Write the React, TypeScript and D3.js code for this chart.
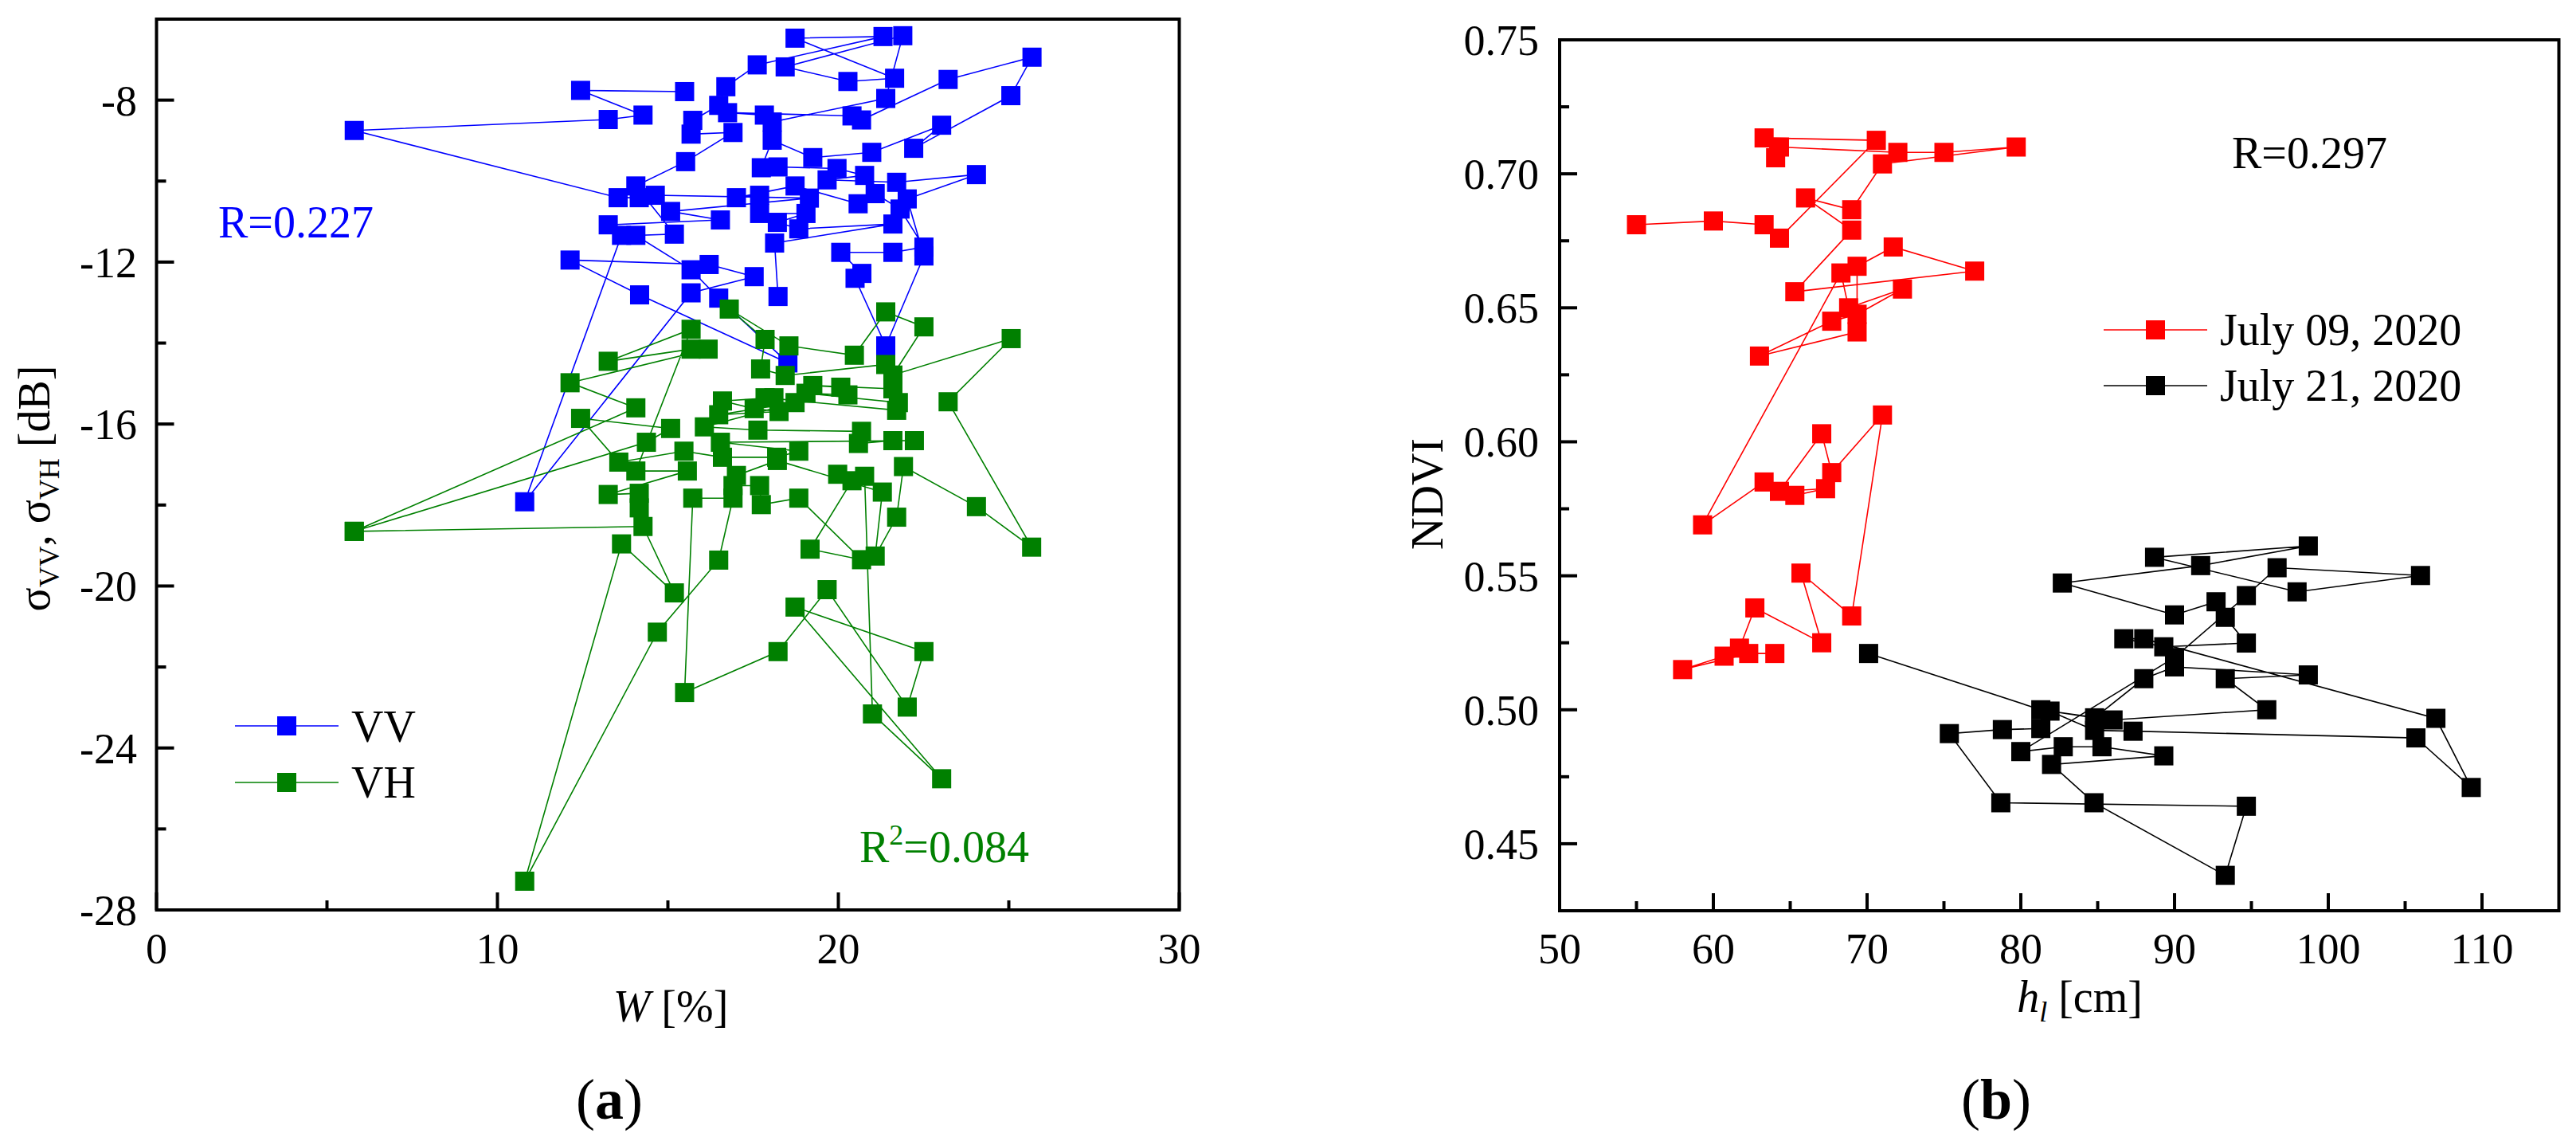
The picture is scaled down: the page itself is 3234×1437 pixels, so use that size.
import { line, scaleLinear } from "d3";

// ---- panel (a): backscatter vs soil moisture ----
const vvW = [15.49, 12.44, 14.27, 13.25, 5.8, 13.54, 14.16, 14.63, 19.15, 15.08, 16.54, 13.25, 13.64, 10.8, 15.68, 17.53, 16.21, 12.13, 14.17, 18.52, 16.49, 15.68, 14.06, 15.19, 14.06, 15.52, 16.91, 15.68, 15.73, 16.49, 16.7, 17.62, 21.31, 18.73, 21.65, 20.28, 18.44, 21.89, 21.39, 18.06, 17.83, 16.75, 20.4, 20.68, 23.22, 25.68, 25.06, 22.21, 23.03, 20.98, 19.25, 18.06, 17.74, 18.23, 19.96, 20.77, 19.67, 21.71, 24.05, 22.02, 22.51, 21.39, 20.49, 20.69, 20.07, 21.6, 22.51, 21.81, 21.08, 20.58, 18.73, 17.01, 17.69, 17.69, 19.05, 18.21, 18.84, 21.6, 18.13, 18.23];
const vvSigma = [-7.79, -7.76, -8.37, -8.48, -8.75, -10.41, -10.41, -10.35, -10.42, -10.75, -10.96, -11.08, -11.34, -17.92, -12.76, -12.36, -12.06, -11.95, -12.81, -14.49, -12.89, -12.19, -11.34, -11.31, -10.12, -9.52, -8.8, -8.84, -8.5, -8.13, -7.67, -7.13, -6.43, -6.47, -7.46, -7.54, -7.18, -6.41, -7.96, -8.54, -8.37, -8.31, -8.39, -8.49, -7.49, -6.94, -7.89, -9.19, -8.62, -9.29, -9.42, -8.99, -9.67, -9.65, -9.69, -9.86, -9.97, -10.03, -9.84, -10.44, -11.85, -14.07, -12.4, -12.28, -11.76, -11.76, -11.63, -10.69, -10.31, -10.56, -10.12, -10.41, -10.35, -10.8, -10.8, -11.02, -11.18, -11.06, -11.53, -12.85];

const vhW = [5.8, 14.27, 15.19, 13.64, 10.8, 14.69, 16.49, 16.91, 15.73, 15.49, 18.23, 19.67, 22.02, 22.51, 18.73, 23.03, 21.0, 20.77, 19.98, 20.4, 19.17, 20.68, 18.84, 17.74, 17.69, 16.91, 17.01, 18.21, 21.29, 21.08, 21.71, 21.91, 24.05, 25.67, 23.22, 25.07, 21.6, 22.51, 21.39, 20.47, 18.55, 16.8, 17.85, 17.72, 18.44, 21.39, 21.6, 19.25, 20.07, 20.28, 19.05, 21.76, 21.71, 17.85, 18.11, 16.6, 17.53, 18.26, 16.49, 18.73, 16.07, 17.64, 20.68, 20.59, 21.6, 22.23, 16.54, 18.84, 18.19, 16.6, 15.47, 13.56, 12.44, 15.08, 14.37, 5.8, 14.06, 12.13, 16.18, 15.68, 13.25, 15.68, 14.06, 15.57, 13.25, 14.16, 14.16];
const vhSigma = [-18.65, -18.53, -20.17, -18.96, -27.29, -21.14, -19.36, -17.83, -17.83, -22.63, -21.62, -20.09, -22.99, -21.62, -20.52, -24.76, -23.16, -17.29, -17.24, -17.4, -19.09, -19.35, -17.83, -17.99, -17.52, -17.52, -17.27, -16.9, -17.68, -19.26, -18.3, -17.05, -18.04, -19.04, -15.45, -13.89, -14.79, -13.6, -13.23, -14.3, -14.07, -13.16, -13.91, -14.64, -14.8, -14.53, -15.13, -15.05, -15.09, -15.28, -15.24, -15.47, -15.66, -15.35, -15.35, -15.43, -15.62, -15.69, -15.77, -15.47, -16.07, -16.15, -16.18, -16.48, -16.41, -16.41, -16.45, -16.67, -16.82, -16.82, -16.67, -16.94, -15.86, -16.11, -16.45, -18.65, -15.6, -14.98, -14.15, -14.15, -14.45, -13.66, -17.16, -17.16, -17.74, -17.71, -18.07];

const aXTicks = [0, 10, 20, 30];
const aXMinor = [5, 15, 25];
const aYTicks = [-28, -24, -20, -16, -12, -8];
const aYMinor = [-26, -22, -18, -14, -10];

// ---- panel (b): NDVI vs plant height ----
const jul09H = [64.0, 62.3, 58.0, 60.7, 61.7, 62.7, 67.05, 65.7, 69.0, 71.0, 67.7, 67.05, 64.3, 67.3, 65.3, 63.3, 59.3, 68.3, 68.8, 72.3, 69.35, 67.7, 63.0, 69.35, 69.35, 71.7, 77.0, 65.3, 69.0, 66.0, 69.0, 71.0, 79.7, 75.0, 72.0, 64.3, 64.05, 63.3, 70.6, 64.3, 63.3, 60.0, 55.0];
const jul09Ndvi = [0.521, 0.521, 0.515, 0.52, 0.523, 0.538, 0.525, 0.551, 0.535, 0.61, 0.5885, 0.603, 0.5815, 0.5825, 0.58, 0.585, 0.569, 0.663, 0.65, 0.657, 0.6476, 0.645, 0.632, 0.641, 0.6655, 0.6727, 0.6637, 0.656, 0.679, 0.691, 0.6866, 0.7037, 0.71, 0.708, 0.708, 0.71, 0.706, 0.7134, 0.7125, 0.676, 0.681, 0.6824, 0.681];

const jul21H = [70.1, 81.3, 84.8, 88.0, 90.0, 98.7, 93.3, 96.0, 86.0, 81.9, 84.8, 87.3, 105.7, 109.3, 107.0, 88.0, 86.7, 89.3, 94.67, 93.3, 92.7, 90.0, 82.7, 91.7, 98.7, 88.7, 97.97, 106.0, 96.67, 94.67, 90.0, 80.0, 82.76, 85.28, 89.3, 82.0, 84.76, 93.3, 94.67, 78.7, 75.35, 78.8, 81.3];
const jul21Ndvi = [0.521, 0.5, 0.497, 0.5116, 0.516, 0.513, 0.5116, 0.5, 0.4962, 0.4995, 0.4923, 0.492, 0.4895, 0.471, 0.4968, 0.5265, 0.5265, 0.5235, 0.5249, 0.5345, 0.5403, 0.5354, 0.5473, 0.5538, 0.5611, 0.5569, 0.544, 0.5501, 0.553, 0.5426, 0.5195, 0.4844, 0.4862, 0.4862, 0.4828, 0.4796, 0.4653, 0.4382, 0.464, 0.4653, 0.4911, 0.4926, 0.493];

const bXTicks = [50, 60, 70, 80, 90, 100, 110];
const bXMinor = [55, 65, 75, 85, 95, 105];
const bYTicks = [0.45, 0.5, 0.55, 0.6, 0.65, 0.7, 0.75];
const bYMinor = [0.475, 0.525, 0.575, 0.625, 0.675, 0.725];

const FONT = "'Liberation Serif', 'Times New Roman', serif";
const MARK = 24;

const ax = scaleLinear().domain([0, 30]).range([196.5, 1480.5]);
const ay = scaleLinear().domain([-28, -6]).range([1142, 24]);
const bx = scaleLinear().domain([50, 115]).range([1958, 3212.5]);
const by = scaleLinear().domain([0.425, 0.75]).range([1143, 50]);

type Scale = (v: number) => number;

function Series({ xs, ys, sx, sy, color }: { xs: number[]; ys: number[]; sx: Scale; sy: Scale; color: string }) {
  const pts = xs.map((x, i) => [x, ys[i]] as [number, number]);
  const d = line<[number, number]>().x((p) => sx(p[0])).y((p) => sy(p[1]))(pts) ?? "";
  return (
    <g>
      <path d={d} fill="none" stroke={color} strokeWidth={1.6} />
      {pts.map((p, i) => (
        <rect key={i} x={sx(p[0]) - MARK / 2} y={sy(p[1]) - MARK / 2} width={MARK} height={MARK} fill={color} />
      ))}
    </g>
  );
}

function Frame({ sx, sy, xTicks, xMinor, yTicks, yMinor, fmtY, yLabelX }: {
  sx: any; sy: any; xTicks: number[]; xMinor: number[]; yTicks: number[]; yMinor: number[]; fmtY: (v: number) => string; yLabelX: number;
}) {
  const [x0, x1] = sx.range();
  const [y0, y1] = sy.range();
  return (
    <g fontFamily={FONT} fontSize={54}>
      {xTicks.map((t) => (
        <g key={"xt" + t}>
          <line x1={sx(t)} x2={sx(t)} y1={y0} y2={y0 - 22} stroke="#000" strokeWidth={4} />
          <text x={sx(t)} y={1209} textAnchor="middle">{t}</text>
        </g>
      ))}
      {xMinor.map((t) => (
        <line key={"xm" + t} x1={sx(t)} x2={sx(t)} y1={y0} y2={y0 - 12} stroke="#000" strokeWidth={4} />
      ))}
      {yTicks.map((t) => (
        <g key={"yt" + t}>
          <line x1={x0} x2={x0 + 22} y1={sy(t)} y2={sy(t)} stroke="#000" strokeWidth={4} />
          <text x={yLabelX} y={sy(t)} dy="0.35em" textAnchor="end">{fmtY(t)}</text>
        </g>
      ))}
      {yMinor.map((t) => (
        <line key={"ym" + t} x1={x0} x2={x0 + 12} y1={sy(t)} y2={sy(t)} stroke="#000" strokeWidth={4} />
      ))}
      <rect x={x0} y={y1} width={x1 - x0} height={y0 - y1} fill="none" stroke="#000" strokeWidth={4} />
    </g>
  );
}

function LegendItem({ x, y, color, label, ty }: { x: number; y: number; color: string; label: string; ty: number }) {
  return (
    <g>
      <line x1={x} x2={x + 130} y1={y} y2={y} stroke={color} strokeWidth={1.6} />
      <rect x={x + 65 - MARK / 2} y={y - MARK / 2} width={MARK} height={MARK} fill={color} />
      <text x={x + 146} y={ty} fontFamily={FONT} fontSize={56}>{label}</text>
    </g>
  );
}

export default function App() {
  return (
    <>
      <style>{`body{margin:0}`}</style>
      <svg width={3234} height={1437} viewBox="0 0 3234 1437" style={{ display: "block", background: "#fff" }}>
        {/* panel (a) */}
        <Series xs={vvW} ys={vvSigma} sx={ax} sy={ay} color="#0000ff" />
        <Series xs={vhW} ys={vhSigma} sx={ax} sy={ay} color="#008000" />
        <Frame sx={ax} sy={ay} xTicks={aXTicks} xMinor={aXMinor} yTicks={aYTicks} yMinor={aYMinor} fmtY={(v) => String(v)} yLabelX={172} />
        <text x={274} y={298} fontFamily={FONT} fontSize={56} fill="#0000ff">R=0.227</text>
        <text x={1079} y={1082} fontFamily={FONT} fontSize={56} fill="#008000">
          R<tspan fontSize={36} dy={-22}>2</tspan><tspan dy={22}>=0.084</tspan>
        </text>
        <LegendItem x={295} y={911} color="#0000ff" label="VV" ty={931} />
        <LegendItem x={295} y={982} color="#008000" label="VH" ty={1001} />
        <text x={842} y={1282} textAnchor="middle" fontFamily={FONT} fontSize={56}>
          <tspan fontStyle="italic">W</tspan> [%]
        </text>
        <text transform="translate(62,613) rotate(-90)" textAnchor="middle" fontFamily={FONT} fontSize={56}>
          σ<tspan fontSize={36} dy={12}>VV</tspan><tspan dy={-12}>, σ</tspan><tspan fontSize={36} dy={12}>VH</tspan><tspan dy={-12}> [dB]</tspan>
        </text>
        <text x={765} y={1404} textAnchor="middle" fontFamily={FONT} fontSize={72}>
          (<tspan fontWeight="bold">a</tspan>)
        </text>

        {/* panel (b) */}
        <Series xs={jul09H} ys={jul09Ndvi} sx={bx} sy={by} color="#ff0000" />
        <Series xs={jul21H} ys={jul21Ndvi} sx={bx} sy={by} color="#000000" />
        <Frame sx={bx} sy={by} xTicks={bXTicks} xMinor={bXMinor} yTicks={bYTicks} yMinor={bYMinor} fmtY={(v) => v.toFixed(2)} yLabelX={1932} />
        <text x={2802} y={211} fontFamily={FONT} fontSize={56}>R=0.297</text>
        <LegendItem x={2641} y={414} color="#ff0000" label="July 09, 2020" ty={433} />
        <LegendItem x={2641} y={484} color="#000000" label="July 21, 2020" ty={503} />
        <text x={2611} y={1270} textAnchor="middle" fontFamily={FONT} fontSize={56}>
          <tspan fontStyle="italic">h</tspan><tspan fontStyle="italic" fontSize={36} dy={12}>l</tspan><tspan dy={-12}> [cm]</tspan>
        </text>
        <text transform="translate(1811,620) rotate(-90)" textAnchor="middle" fontFamily={FONT} fontSize={56}>NDVI</text>
        <text x={2506} y={1404} textAnchor="middle" fontFamily={FONT} fontSize={72}>
          (<tspan fontWeight="bold">b</tspan>)
        </text>
      </svg>
    </>
  );
}
